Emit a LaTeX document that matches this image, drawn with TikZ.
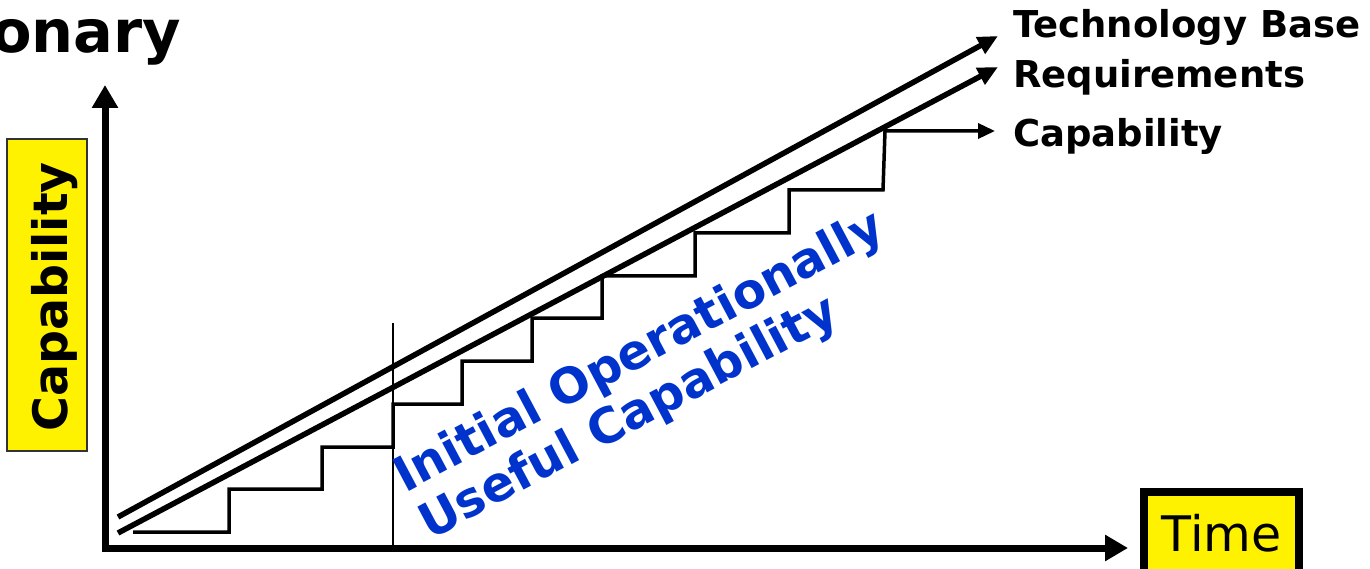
\documentclass[tikz,border=0pt]{standalone}
\usepackage{fontspec}
\setmainfont{DejaVu Sans}
\usetikzlibrary{arrows.meta, positioning, calc}
\definecolor{iocblue}{RGB}{0,51,204}

\begin{document}
\begin{tikzpicture}[x=1pt,y=-1pt,every node/.style={inner sep=0pt,outer sep=0pt},
    axis/.style={line width=7pt,line join=miter,{Triangle[length=23pt,width=25pt]}-{Triangle[length=23pt,width=25pt]}},
    trend/.style={line width=5.5pt,-{Triangle[length=20pt,width=18pt]}},
    stair/.style={line width=3.5pt,line join=miter,-{Triangle[length=17pt,width=15pt]}},
    rlabel/.style={anchor=base west,font=\fontsize{37}{44}\selectfont\bfseries},
    ioc/.style={anchor=base west,rotate=28,text=iocblue,font=\fontsize{48.5}{54}\selectfont\bfseries}]
    \useasboundingbox (0,0) rectangle (1370,569);
    % Title (cut off at the left)
    \node[anchor=base west,font=\fontsize{59}{66}\selectfont\bfseries] (title) at (-9,53) {onary};
    % Axes
    \coordinate (origin) at (105,548);
    \coordinate (ytop) at (105,85);
    \coordinate (xend) at (1128,548);
    \draw[axis] (ytop) -- (origin) -- (xend);
    % Axis labels
    \node[draw=black!80,line width=1.5pt,fill=yellow,minimum width=312pt,minimum height=80pt,rotate=90] (ybox) at (47,295) {};
    \node[anchor=base,rotate=90,font=\fontsize{47.5}{54}\selectfont\bfseries] (ylabel) at (67,297) {Capability};
    \node[draw,line width=8pt,fill=yellow,minimum width=155pt,minimum height=83pt,font=\fontsize{49}{56}\selectfont] (time) at (1221.5,533.5) {Time};
    % Trend lines
    \coordinate (tech0) at (118,517);
    \coordinate (tech1) at (998,36);
    \coordinate (req0) at (118,533);
    \coordinate (req1) at (998,67);
    \draw[trend] (tech0) -- (tech1);
    \draw[trend] (req0) -- (req1);
    % Capability steps
    \coordinate (cap0) at (133,532);
    \coordinate (cap1) at (885,131);
    \coordinate (cap2) at (995,131);
    \draw[stair] (cap0) -- (229,532) -- (229,489) -- (322,489) -- (322,447) -- (393,447)
        -- (393,404) -- (462,404) -- (462,361) -- (532,361) -- (532,318) -- (602,318)
        -- (602,276) -- (695,276) -- (695,233) -- (789,233) -- (789,190) -- (883,190)
        -- (cap1) -- (cap2);
    % IOC marker
    \coordinate (iocmark) at (393,323);
    \draw[line width=2pt] (iocmark) -- (iocmark |- origin);
    \node[ioc] (ioc1) at (405,493) {Initial Operationally};
    \node[ioc] (ioc2) at (430,540) {Useful Capability};
    % Labels
    \foreach \name/\txt/\y in {techlbl/Technology Base/38,reqlbl/Requirements/88,capablbl/Capability/147}
        \node[rlabel] (\name) at (1013,\y) {\txt};
\end{tikzpicture}
\end{document}
